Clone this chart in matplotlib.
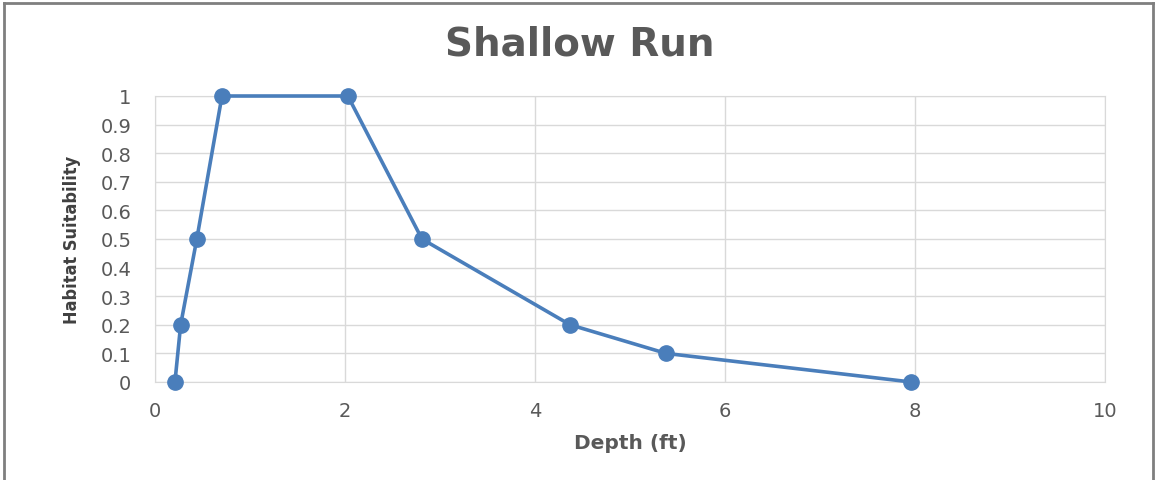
import matplotlib.pyplot as plt

# habitat suitability curve
depth = [0.21, 0.27, 0.44, 0.705, 2.03, 2.81, 4.37, 5.38, 7.96]
suitability = [0, 0.2, 0.5, 1, 1, 0.5, 0.2, 0.1, 0]
x_ticks = [0, 2, 4, 6, 8, 10]
y_ticks = [0, 0.1, 0.2, 0.3, 0.4, 0.5, 0.6, 0.7, 0.8, 0.9, 1]

grey = '#595959'
grid_col = '#d9d9d9'

fig = plt.figure(figsize=(11.56, 4.81), dpi=100)
ax = fig.add_axes([155 / 1156, 1 - 383 / 481, 950 / 1156, 286 / 481])

ax.plot(depth, suitability, color='#4a7ebb', linewidth=2.6, marker='o',
        markersize=11, clip_on=False, zorder=3)

ax.set_xlim(0, 10)
ax.set_ylim(0, 1)
ax.set_xticks(x_ticks)
ax.set_yticks(y_ticks)
ax.set_xticklabels([str(t) for t in x_ticks])
ax.set_yticklabels(['0'] + ['%g' % t for t in y_ticks[1:]])
ax.grid(True, color=grid_col, linewidth=1)
ax.set_axisbelow(True)
for s in ax.spines.values():
    s.set_color(grid_col)
ax.tick_params(length=0, colors=grey, labelsize=14)
ax.tick_params(axis='x', pad=14)
ax.tick_params(axis='y', pad=17)
for lab in ax.get_xticklabels() + ax.get_yticklabels():
    lab.set_family('DejaVu Sans')

ax.set_xlabel('Depth (ft)', fontsize=14.5, fontweight='bold', color=grey,
              family='DejaVu Sans', labelpad=9)
ax.set_ylabel('Habitat Suitability', fontsize=13, fontweight='bold', color='#404040',
              family='DejaVu Sans', fontstretch='condensed', labelpad=14)

fig.text(580 / 1156, 1 - 45 / 481, 'Shallow Run', ha='center', va='center',
         fontsize=28, fontweight='bold', color=grey, family='DejaVu Sans')

# chart area border (left, top, right)
border = dict(transform=fig.transFigure, color='#7f7f7f', linewidth=2)
fig.add_artist(plt.Line2D([4 / 1156, 4 / 1156], [0, 1 - 4 / 481], **border))
fig.add_artist(plt.Line2D([4 / 1156, 1153 / 1156], [1 - 4 / 481, 1 - 4 / 481], **border))
fig.add_artist(plt.Line2D([1153 / 1156, 1153 / 1156], [0, 1 - 4 / 481], **border))

fig.savefig('out.png', dpi=100)
